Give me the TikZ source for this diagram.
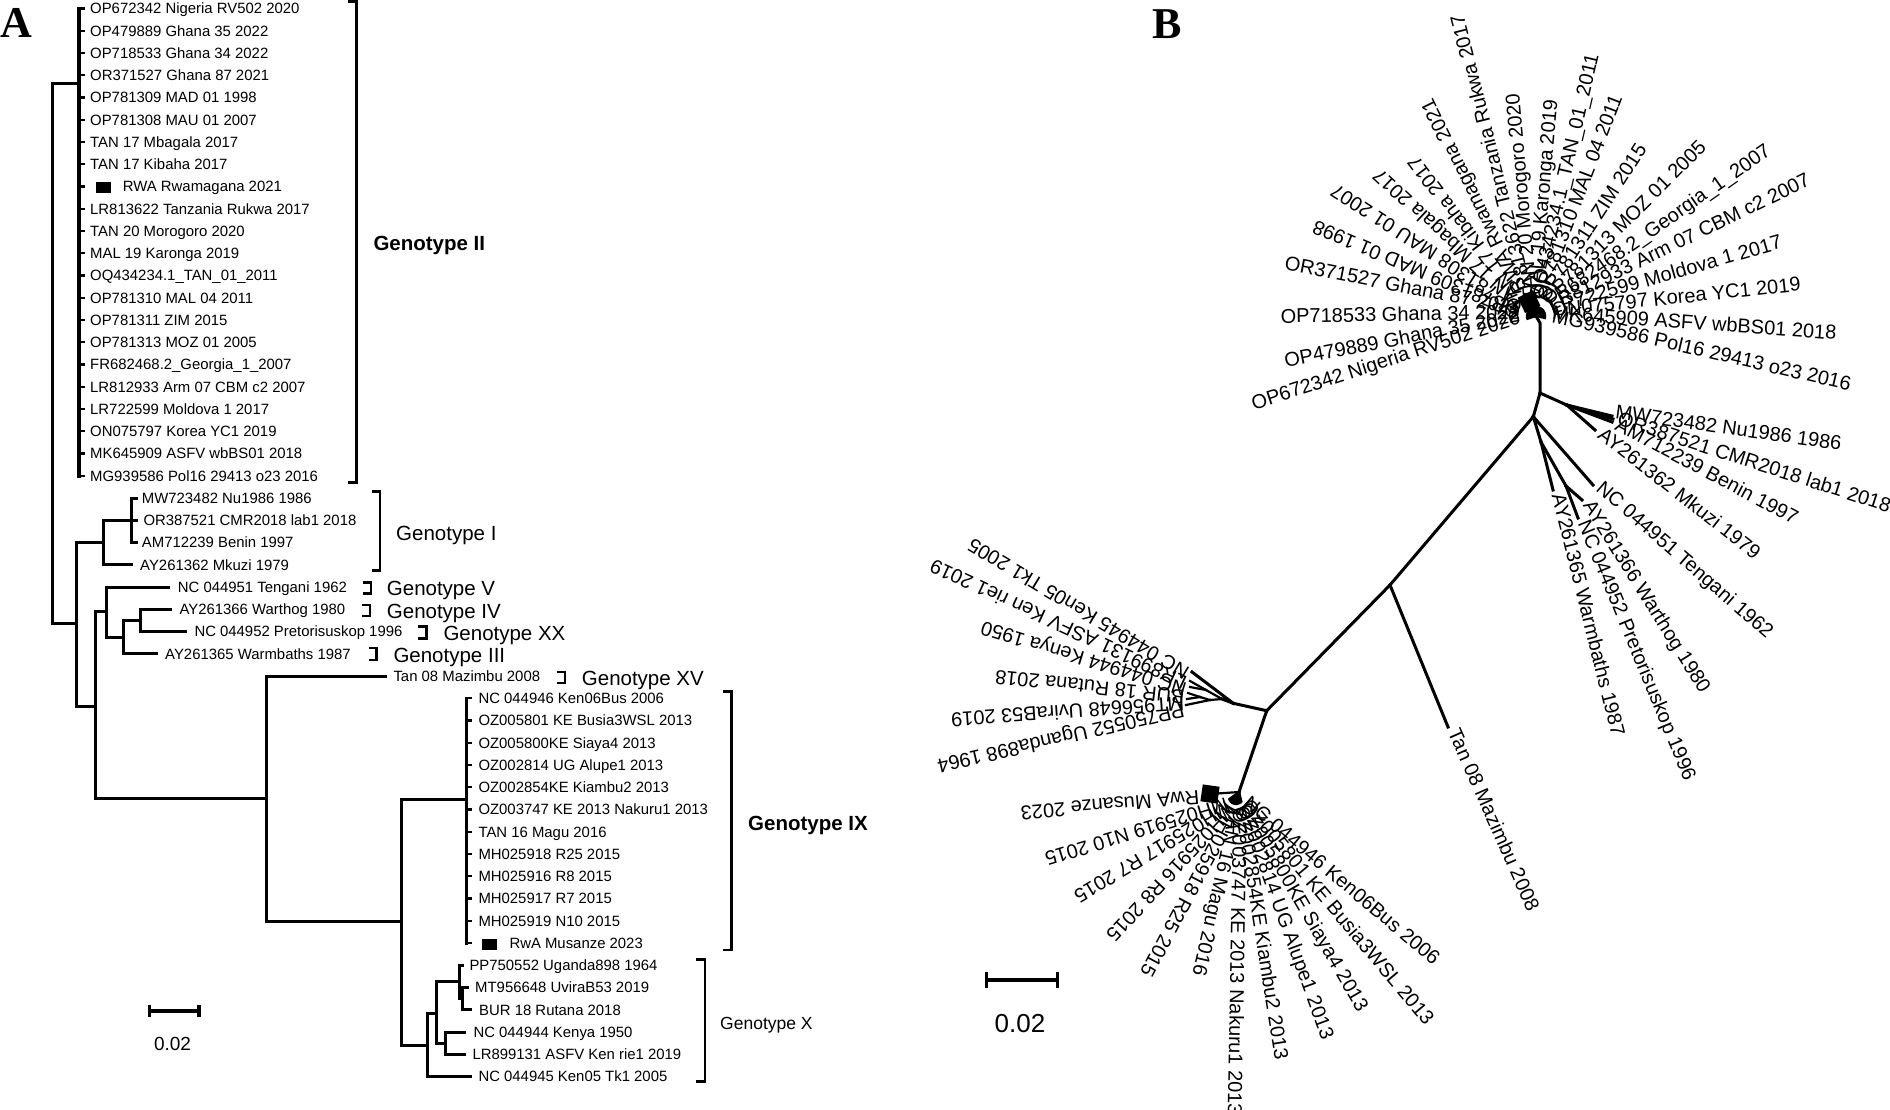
\documentclass[tikz,border=0pt]{standalone}
\usepackage{fontspec}
\setmainfont{Liberation Sans}
\newfontfamily\panelfont{Liberation Serif}
\usetikzlibrary{calc}

\tikzset{
  branch/.style={line width=3pt, line cap=rect},
  twig/.style={line width=2.2pt, line cap=rect},
  bracketline/.style={line width=2.6pt},
  leaf/.style={anchor=base west, inner sep=0pt, yshift=-5.3pt,
    font=\fontsize{14.9}{16}\selectfont},
  cladename/.style={anchor=base west, inner sep=0pt, yshift=-7.3pt,
    font=\fontsize{20.5}{22}\selectfont},
  cladebold/.style={cladename, font=\fontsize{20.5}{22}\selectfont\bfseries},
  radial/.style={inner sep=0pt, font=\fontsize{20}{22}\selectfont},
  outward/.style={radial, anchor=mid west},
  inward/.style={radial, anchor=mid east},
  marker/.style={fill=black, inner sep=0pt, minimum width=15pt, minimum height=11pt},
  bigmarker/.style={fill=black, inner sep=0pt, minimum size=17pt},
  panel/.style={anchor=base west, inner sep=0pt,
    font=\panelfont\bfseries\fontsize{44}{44}\selectfont},
  scalebar/.style={line width=3.2pt},
}

\begin{document}
\begin{tikzpicture}[x=1pt,y=1pt]
\useasboundingbox (0,0) rectangle (1890,-1109);

% ---------- panel A: rectangular tree ----------
\node[panel] (pA) at (0,-37) {A};

% internal nodes
\coordinate (root) at (52,-353);
\coordinate (gII) at (79,-83);
\coordinate (n1) at (76.7,-623);
\coordinate (gI) at (103.3,-542);
\coordinate (gIa) at (131.7,-520.25);
\coordinate (n2) at (95,-706);
\coordinate (n3) at (106,-611.7);
\coordinate (n4) at (123.3,-637.3);
\coordinate (n5) at (140,-620.7);
\coordinate (n6) at (266,-798);
\coordinate (n7) at (401.7,-921);
\coordinate (gIX) at (466.7,-799.3);
\coordinate (x0) at (427.7,-1045);
\coordinate (x1) at (436.7,-1013.3);
\coordinate (x2) at (459.3,-981.7);
\coordinate (x3) at (445,-1043);
\coordinate (x4) at (462.7,-998.6);

% tips
\coordinate (tMW) at (136,-498);
\coordinate (tOR) at (136,-520.25);
\coordinate (tAM) at (136,-542.5);
\coordinate (tMk) at (131.7,-564.75);
\coordinate (tTeng) at (168.3,-587);
\coordinate (tWart) at (170.7,-609.25);
\coordinate (tPret) at (185.7,-631.5);
\coordinate (tWarm) at (156.7,-653.75);
\coordinate (tTan) at (385,-676);
\coordinate (tPP) at (462,-965.25);
\coordinate (tMT) at (467,-987.5);
\coordinate (tBUR) at (470,-1009.75);
\coordinate (tKen) at (464,-1032);
\coordinate (tLR) at (464,-1054.25);
\coordinate (tK05) at (470,-1076.5);

% Genotype II polytomy
\foreach \i in {0,...,21}{
  \pgfmathsetmacro\ry{-(8.5+22.25*\i)}
  \coordinate (aII\i) at (84,\ry);
  \draw[twig] (gII |- aII\i) -- (aII\i);
}
\draw[branch,line width=4pt] (gII |- aII0) -- (gII |- aII21);

% Genotype IX polytomy
\foreach \i in {31,...,42}{
  \pgfmathsetmacro\ry{-(8.5+22.25*\i)}
  \coordinate (aIX\i) at (471,\ry);
  \draw[twig] (gIX |- aIX\i) -- (aIX\i);
}
\draw[branch,line width=3.5pt] (gIX |- aIX31) -- (gIX |- aIX42);

% branches
\draw[branch] (root) |- (gII);
\draw[branch] (root) |- (n1);
\draw[branch] (n1) |- (gI);
\draw[branch] (n1) |- (n2);
\draw[branch] (gI) |- (gIa);
\draw[branch] (gI) |- (tMk);
\draw[branch] (gIa) |- (tMW);
\draw[branch] (gIa) |- (tOR);
\draw[branch] (gIa) |- (tAM);
\draw[branch] (n2) |- (n3);
\draw[branch] (n2) |- (n6);
\draw[branch] (n3) |- (tTeng);
\draw[branch] (n3) |- (n4);
\draw[branch] (n4) |- (n5);
\draw[branch] (n4) |- (tWarm);
\draw[branch] (n5) |- (tWart);
\draw[branch] (n5) |- (tPret);
\draw[branch] (n6) |- (tTan);
\draw[branch] (n6) |- (n7);
\draw[branch] (n7) |- (gIX);
\draw[branch] (n7) |- (x0);
\draw[branch] (x0) |- (x1);
\draw[branch] (x0) |- (tK05);
\draw[branch] (x1) |- (x2);
\draw[branch] (x1) |- (x3);
\draw[branch] (x2) |- (tPP);
\draw[branch] (x2) |- (x4);
\draw[branch] (x4) |- (tMT);
\draw[branch] (x4) |- (tBUR);
\draw[branch] (x3) |- (tKen);
\draw[branch] (x3) |- (tLR);

% leaf labels
\foreach \i/\txt in {0/OP672342 Nigeria RV502 2020, 1/OP479889 Ghana 35 2022,
    2/OP718533 Ghana 34 2022, 3/OR371527 Ghana 87 2021, 4/OP781309 MAD 01 1998,
    5/OP781308 MAU 01 2007, 6/TAN 17 Mbagala 2017, 7/TAN 17 Kibaha 2017,
    9/LR813622 Tanzania Rukwa 2017, 10/TAN 20 Morogoro 2020, 11/MAL 19 Karonga 2019,
    12/OQ434234.1\_TAN\_01\_2011, 13/OP781310 MAL 04 2011, 14/OP781311 ZIM 2015,
    15/OP781313 MOZ 01 2005, 16/FR682468.2\_Georgia\_1\_2007,
    17/LR812933 Arm 07 CBM c2 2007, 18/LR722599 Moldova 1 2017,
    19/ON075797 Korea YC1 2019, 20/MK645909 ASFV wbBS01 2018,
    21/MG939586 Pol16 29413 o23 2016}{
  \pgfmathsetmacro\ry{-(8.5+22.25*\i)}
  \node[leaf] (lII\i) at (90,\ry) {\txt};
}
\node[marker] (sqII) at (103.3,-187.7) {};
\node[leaf] (lII8) at (122.7,-186.5) {RWA Rwamagana 2021};

\node[leaf] (lMW) at (141.7,-498) {MW723482 Nu1986 1986};
\node[leaf] (lOR) at (143.3,-520.25) {OR387521 CMR2018 lab1 2018};
\node[leaf] (lAM) at (141.7,-542.5) {AM712239 Benin 1997};
\node[leaf] (lMk) at (140,-564.75) {AY261362 Mkuzi 1979};
\node[leaf] (lTeng) at (177.7,-587) {NC 044951 Tengani 1962};
\node[leaf] (lWart) at (179.3,-609.25) {AY261366 Warthog 1980};
\node[leaf] (lPret) at (194.3,-631.5) {NC 044952 Pretorisuskop 1996};
\node[leaf] (lWarm) at (165,-653.75) {AY261365 Warmbaths 1987};
\node[leaf] (lTan) at (393.3,-676) {Tan 08 Mazimbu 2008};

\foreach \i/\txt in {31/NC 044946 Ken06Bus 2006, 32/OZ005801 KE Busia3WSL 2013,
    33/OZ005800KE Siaya4 2013, 34/OZ002814 UG Alupe1 2013,
    35/OZ002854KE Kiambu2 2013, 36/OZ003747 KE 2013 Nakuru1 2013,
    37/TAN 16 Magu 2016, 38/MH025918 R25 2015, 39/MH025916 R8 2015,
    40/MH025917 R7 2015, 41/MH025919 N10 2015}{
  \pgfmathsetmacro\ry{-(8.5+22.25*\i)}
  \node[leaf] (lIX\i) at (478.3,\ry) {\txt};
}
\node[marker] (sqIX) at (489.5,-944) {};
\node[leaf] (lIX42) at (509.3,-943) {RwA Musanze 2023};

\node[leaf] (lPP) at (469.3,-965.25) {PP750552 Uganda898 1964};
\node[leaf] (lMT) at (475,-987.5) {MT956648 UviraB53 2019};
\node[leaf] (lBUR) at (479,-1009.75) {BUR 18 Rutana 2018};
\node[leaf] (lKen) at (473.3,-1032) {NC 044944 Kenya 1950};
\node[leaf] (lLR) at (472.3,-1054.25) {LR899131 ASFV Ken rie1 2019};
\node[leaf] (lK05) at (478.3,-1076.5) {NC 044945 Ken05 Tk1 2005};

% genotype brackets
\draw[bracketline] (348.3,-1.7) -| (356.7,-482.7) -- (348.3,-482.7);
\draw[bracketline] (371.7,-491.7) -| (380,-570.7) -- (371.7,-570.7);
\draw[bracketline] (363,-582.7) -| (371,-593.3) -- (363,-593.3);
\draw[bracketline] (362,-605) -| (370,-616) -- (362,-616);
\draw[bracketline] (418,-626.7) -| (426.7,-638.3) -- (418,-638.3);
\draw[bracketline] (369,-648) -| (376.7,-660) -- (369,-660);
\draw[bracketline] (556.7,-672) -| (565,-683) -- (556.7,-683);
\draw[bracketline] (723.3,-691.7) -| (731.7,-950) -- (723.3,-950);
\draw[bracketline] (696,-959.3) -| (705,-1081.7) -- (696,-1081.7);

\node[cladebold] (cII) at (373.3,-243.3) {Genotype II};
\node[cladename] (cI) at (396,-533.3) {Genotype I};
\node[cladename] (cV) at (386.7,-588.3) {Genotype V};
\node[cladename] (cIV) at (386.7,-610.7) {Genotype IV};
\node[cladename] (cXX) at (443.3,-633) {Genotype XX};
\node[cladename] (cIII) at (393.3,-655) {Genotype III};
\node[cladename] (cXV) at (581.7,-678.3) {Genotype XV};
\node[cladebold] (cIX) at (748,-823.3) {Genotype IX};
\node[cladename, yshift=1pt, font=\fontsize{17.5}{20}\selectfont] (cX) at (720,-1023.3) {Genotype X};

% scale bar
\coordinate (sbA1) at (149.5,-1011);
\coordinate (sbA2) at (199,-1011);
\draw[scalebar] (sbA1) -- (sbA2);
\draw[scalebar] ([yshift=6]sbA1) -- ([yshift=-6]sbA1);
\draw[scalebar] ([yshift=6]sbA2) -- ([yshift=-6]sbA2);
\node[inner sep=0pt, font=\fontsize{19}{21}\selectfont] (sbAt) at (172.5,-1044) {0.02};

% ---------- panel B: radial tree ----------
\node[panel] (pB) at (1152,-38.6) {B};

\coordinate (rII) at (1536,-316);
\coordinate (rIIs) at (1540,-323);
\coordinate (rG) at (1540,-393);
\coordinate (rGI) at (1566.7,-405);
\coordinate (rM) at (1533.3,-416.7);
\coordinate (rS1) at (1541,-442);
\coordinate (rS2) at (1566,-486);
\coordinate (rT) at (1390,-585);
\coordinate (rY) at (1266.7,-710.7);
\coordinate (rX) at (1233.3,-703.3);
\coordinate (rX1) at (1222,-699);
\coordinate (rX2) at (1210,-700);
\coordinate (rX3) at (1206,-690);
\coordinate (rX4) at (1200,-697);
\coordinate (rIX) at (1239,-792);
\coordinate (c9) at (1236,-797);

% tips
\coordinate (sMW) at (1612,-416);
\coordinate (sOR) at (1613,-419);
\coordinate (sAM) at (1612,-422);
\coordinate (sMk) at (1595,-430);
\coordinate (sTeng) at (1593,-485);
\coordinate (sWart) at (1582,-500);
\coordinate (sPret) at (1578,-518);
\coordinate (sWarm) at (1553,-490);
\coordinate (sTan) at (1448,-727);
\coordinate (sX48) at (1192,-672);
\coordinate (sX47) at (1190,-681);
\coordinate (sX46) at (1190,-687);
\coordinate (sX45) at (1188,-693);
\coordinate (sX44) at (1187,-699);
\coordinate (sX43) at (1186,-705);

% backbone
\draw[branch] (rG) -- (rIIs) -- (rII);
\draw[branch] (rG) -- (rGI);
\draw[branch] (rG) -- (rM);
\draw[branch] (rM) -- (rT);
\draw[branch] (rT) -- (sTan);
\draw[branch] (rT) -- (rY);
\draw[branch] (rY) -- (rX);
\draw[branch] (rY) -- (rIX);

% Genotype I
\draw[branch] (rGI) -- (sMW);
\draw[branch] (rGI) -- (sOR);
\draw[branch] (rGI) -- (sAM);
\draw[branch] (rGI) -- (sMk);

% Genotypes V, IV, XX, III
\draw[branch] (rM) -- (sTeng);
\draw[branch] (rM) -- (rS1);
\draw[branch] (rS1) -- (sWarm);
\draw[branch] (rS1) -- (rS2);
\draw[branch] (rS2) -- (sWart);
\draw[branch] (rS2) -- (sPret);

% Genotype X
\draw[branch] (rX) -- (sX48);
\draw[branch] (rX) -- (rX1);
\draw[twig] (rX1) -- (rX3);
\draw[twig] (rX3) -- (sX47);
\draw[twig] (rX3) -- (sX46);
\draw[twig] (rX1) -- (rX2);
\draw[twig] (rX2) -- (sX43);
\draw[twig] (rX2) -- (rX4);
\draw[twig] (rX4) -- (sX44);
\draw[twig] (rX4) -- (sX45);

% Genotype II fan
\foreach \ang/\idx/\txt in {198/0/OP672342 Nigeria RV502 2020,
    191/1/OP479889 Ghana 35 2022, 181/2/OP718533 Ghana 34 2022,
    169/3/OR371527 Ghana 87 2021}{
  \coordinate (sII\idx) at ([shift={(\ang:9)}]rII);
  \draw[twig] (rII) -- (sII\idx);
  \node[inward, rotate=\ang-180] (bII\idx) at ([shift={(\ang:16)}]rII) {\txt};
}
\foreach \ang/\idx/\txt in {157/4/OP781309 MAD 01 1998, 147/5/OP781308 MAU 01 2007,
    137/6/TAN 17 Mbagala 2017, 127/7/TAN 17 Kibaha 2017,
    104/9/LR813622 Tanzania Rukwa 2017, 95/10/TAN 20 Morogoro 2020,
    85/11/MAL 19 Karonga 2019, 77/12/OQ434234.1\_TAN\_01\_2011,
    69/13/OP781310 MAL 04 2011, 57/14/OP781311 ZIM 2015,
    45/15/OP781313 MOZ 01 2005, 35/16/FR682468.2\_Georgia\_1\_2007,
    26/17/LR812933 Arm 07 CBM c2 2007, 16/18/LR722599 Moldova 1 2017,
    6/19/ON075797 Korea YC1 2019, -4/20/MK645909 ASFV wbBS01 2018,
    -13/21/MG939586 Pol16 29413 o23 2016}{
  \coordinate (sII\idx) at ([shift={(\ang:9)}]rII);
  \draw[twig] (rII) -- (sII\idx);
  \node[outward, rotate=\ang] (bII\idx) at ([shift={(\ang:16)}]rII) {\txt};
}
\node[bigmarker, rotate=26] (sqIIr) at ([shift={(116:16)}]rII) {};
\draw[twig] (rII) -- (sqIIr);
\node[outward, rotate=116] (bII8) at ([shift={(116:28)}]rII) {RWA Rwamagana 2021};

% Genotype I labels
\node[outward, rotate=-8] (bMW) at (1615,-416) {MW723482 Nu1986 1986};
\node[outward, rotate=-18] (bOR) at (1617,-422) {OR387521 CMR2018 lab1 2018};
\node[outward, rotate=-28] (bAM) at (1615,-427) {AM712239 Benin 1997};
\node[outward, rotate=-38] (bMk) at (1598,-435) {AY261362 Mkuzi 1979};

% Genotypes V, IV, XX, III labels
\node[outward, rotate=-41] (bTeng) at ([shift={(-41:5)}]sTeng) {NC 044951 Tengani 1962};
\node[outward, rotate=-58] (bWart) at ([shift={(-58:5)}]sWart) {AY261366 Warthog 1980};
\node[outward, rotate=-67.5] (bPret) at ([shift={(-67.5:5)}]sPret) {NC 044952 Pretorisuskop 1996};
\node[outward, rotate=-76] (bWarm) at ([shift={(-76:5)}]sWarm) {AY261365 Warmbaths 1987};
\node[outward, rotate=-66] (bTan) at ([shift={(-66:5)}]sTan) {Tan 08 Mazimbu 2008};

% Genotype X labels
\foreach \ang/\idx/\txt in {149/48/NC 044945 Ken05 Tk1 2005,
    155/47/LR899131 ASFV Ken rie1 2019, 163/46/NC 044944 Kenya 1950,
    174/45/BUR 18 Rutana 2018, 184/44/MT956648 UviraB53 2019,
    193/43/PP750552 Uganda898 1964}{
  \node[outward, rotate=\ang] (bX\idx) at ([shift={(\ang:3)}]sX\idx) {\txt};
}

% Genotype IX fan
\foreach \ang/\idx/\txt in {-40/31/NC 044946 Ken06Bus 2006,
    -50/32/OZ005801 KE Busia3WSL 2013, -60/33/OZ005800KE Siaya4 2013,
    -70/34/OZ002814 UG Alupe1 2013, -81/35/OZ002854KE Kiambu2 2013,
    -91/36/OZ003747 KE 2013 Nakuru1 2013, -103/37/TAN 16 Magu 2016,
    -118/38/MH025918 R25 2015, -133/39/MH025916 R8 2015,
    -149/40/MH025917 R7 2015, -163/41/MH025919 N10 2015}{
  \coordinate (sIX\idx) at ([shift={(\ang:7)}]c9);
  \draw[twig] (rIX) -- (sIX\idx);
  \node[outward, rotate=\ang] (bIX\idx) at ([shift={(\ang:10)}]c9) {\txt};
}
\node[bigmarker, rotate=-8] (sqIXr) at (1210,-794) {};
\draw[twig] (rIX) -- (sqIXr);
\node[outward, rotate=185] (bIX42) at (1199,-793) {RwA Musanze 2023};

% scale bar
\coordinate (sbB1) at (986.6,-980);
\coordinate (sbB2) at (1057.7,-980);
\draw[scalebar] (sbB1) -- (sbB2);
\draw[scalebar] ([yshift=8]sbB1) -- ([yshift=-8]sbB1);
\draw[scalebar] ([yshift=8]sbB2) -- ([yshift=-8]sbB2);
\node[inner sep=0pt, font=\fontsize{26}{28}\selectfont] (sbBt) at (1020,-1024) {0.02};

\end{tikzpicture}
\end{document}
